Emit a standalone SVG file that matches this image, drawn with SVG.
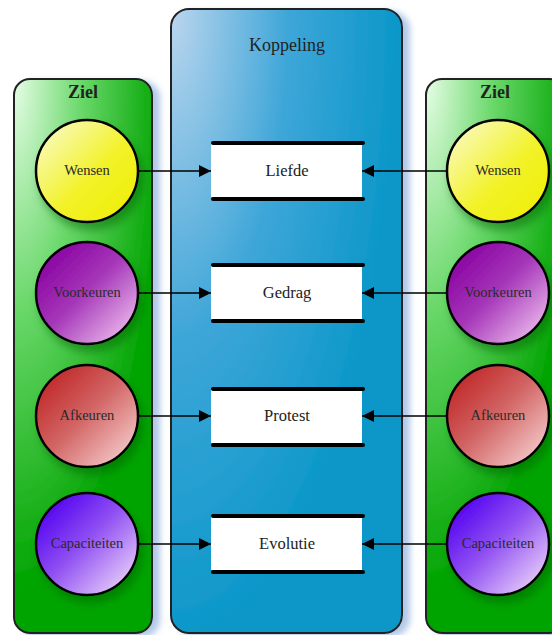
<svg xmlns="http://www.w3.org/2000/svg" width="552" height="635" viewBox="0 0 552 635">
<defs>
<radialGradient id="gL" gradientUnits="userSpaceOnUse" cx="14" cy="79" r="150" gradientTransform="translate(14,79) scale(1,3.4) translate(-14,-79)">
<stop offset="0" stop-color="#e6fde6"/><stop offset="0.45" stop-color="#6ad86a"/><stop offset="1" stop-color="#00a400"/>
</radialGradient>
<radialGradient id="gR" gradientUnits="userSpaceOnUse" cx="426" cy="79" r="150" gradientTransform="translate(426,79) scale(1,3.4) translate(-426,-79)">
<stop offset="0" stop-color="#e6fde6"/><stop offset="0.45" stop-color="#6ad86a"/><stop offset="1" stop-color="#00a400"/>
</radialGradient>
<radialGradient id="gK" gradientUnits="userSpaceOnUse" cx="171" cy="9" r="235" gradientTransform="translate(171,9) scale(1,2.8) translate(-171,-9)">
<stop offset="0" stop-color="#bcd6ee"/><stop offset="0.5" stop-color="#3ea6d8"/><stop offset="1" stop-color="#0896c8"/>
</radialGradient>
<linearGradient id="cY" x1="0" y1="0" x2="1" y2="1">
<stop offset="0" stop-color="#fbfbd8"/><stop offset="0.55" stop-color="#f2f22a"/><stop offset="1" stop-color="#eeee00"/>
</linearGradient>
<linearGradient id="cP" x1="0.1" y1="0.1" x2="0.95" y2="0.95">
<stop offset="0" stop-color="#8800a0"/><stop offset="0.45" stop-color="#a536b8"/><stop offset="1" stop-color="#f2c6f2"/>
</linearGradient>
<linearGradient id="cA" x1="0.1" y1="0.1" x2="0.95" y2="0.95">
<stop offset="0" stop-color="#c02626"/><stop offset="0.45" stop-color="#d26464"/><stop offset="1" stop-color="#f8d4d4"/>
</linearGradient>
<linearGradient id="cC" x1="0.1" y1="0.1" x2="0.95" y2="0.95">
<stop offset="0" stop-color="#5000f0"/><stop offset="0.45" stop-color="#9050f2"/><stop offset="1" stop-color="#f2dcfa"/>
</linearGradient>
<filter id="pshadow" x="-10%" y="-5%" width="130%" height="115%">
<feDropShadow dx="7" dy="3" stdDeviation="3" flood-color="#9fbbe2" flood-opacity="0.8"/>
</filter>
<filter id="cshadow" x="-20%" y="-20%" width="150%" height="150%">
<feDropShadow dx="4" dy="7" stdDeviation="4" flood-color="#005a00" flood-opacity="0.45"/>
</filter>
<marker id="arr" viewBox="0 0 12 12" refX="12" refY="6" markerWidth="12" markerHeight="12" markerUnits="userSpaceOnUse" orient="auto">
<path d="M0,0 L12,6 L0,12 z" fill="#000"/>
</marker>
</defs>
<style>
.panel{stroke:#222;stroke-width:2}
.circ{stroke:#000;stroke-width:2.5}
.ctext{font-family:"Liberation Serif","DejaVu Serif",serif;font-size:14.5px;fill:#2a2a2a;text-anchor:middle}
.btext{font-family:"Liberation Serif","DejaVu Serif",serif;font-size:16.5px;fill:#222;text-anchor:middle}
.ptitle{font-family:"Liberation Serif","DejaVu Serif",serif;font-size:18px;font-weight:bold;fill:#222;text-anchor:middle}
.ktitle{font-family:"Liberation Serif","DejaVu Serif",serif;font-size:18px;fill:#222;text-anchor:middle}
.bar{stroke:#000;stroke-width:4;stroke-linecap:round}
.conn{stroke:#000;stroke-width:1.5;fill:none}
</style>
<rect width="552" height="635" fill="#fff"/>

<g id="ziel-left">
<rect class="panel" x="14" y="79" width="138" height="554" rx="16" fill="url(#gL)" filter="url(#pshadow)"/>
<text class="ptitle" x="83" y="98">Ziel</text>
</g>
<g id="koppeling">
<rect class="panel" x="171" y="9" width="231" height="624" rx="18" fill="url(#gK)" filter="url(#pshadow)"/>
<text class="ktitle" x="287" y="51">Koppeling</text>
</g>
<g id="ziel-right">
<rect class="panel" x="426" y="79" width="140" height="554" rx="16" fill="url(#gR)" filter="url(#pshadow)"/>
<text class="ptitle" x="495" y="98">Ziel</text>
</g>

<g id="l-wensen"><circle class="circ" cx="87" cy="171" r="51" fill="url(#cY)" filter="url(#cshadow)"/><text class="ctext" x="87" y="175">Wensen</text></g>
<g id="l-voorkeuren"><circle class="circ" cx="87" cy="293" r="51" fill="url(#cP)" filter="url(#cshadow)"/><text class="ctext" x="87" y="297">Voorkeuren</text></g>
<g id="l-afkeuren"><circle class="circ" cx="87" cy="416" r="51" fill="url(#cA)" filter="url(#cshadow)"/><text class="ctext" x="87" y="420">Afkeuren</text></g>
<g id="l-capaciteiten"><circle class="circ" cx="87" cy="544" r="51" fill="url(#cC)" filter="url(#cshadow)"/><text class="ctext" x="87" y="548">Capaciteiten</text></g>

<g id="r-wensen"><circle class="circ" cx="498" cy="171" r="51" fill="url(#cY)" filter="url(#cshadow)"/><text class="ctext" x="498" y="175">Wensen</text></g>
<g id="r-voorkeuren"><circle class="circ" cx="498" cy="293" r="51" fill="url(#cP)" filter="url(#cshadow)"/><text class="ctext" x="498" y="297">Voorkeuren</text></g>
<g id="r-afkeuren"><circle class="circ" cx="498" cy="416" r="51" fill="url(#cA)" filter="url(#cshadow)"/><text class="ctext" x="498" y="420">Afkeuren</text></g>
<g id="r-capaciteiten"><circle class="circ" cx="498" cy="544" r="51" fill="url(#cC)" filter="url(#cshadow)"/><text class="ctext" x="498" y="548">Capaciteiten</text></g>

<g id="b-liefde"><rect x="211" y="144" width="151" height="53" fill="#fff"/><line class="bar" x1="213" y1="143" x2="363" y2="143"/><line class="bar" x1="213" y1="199" x2="363" y2="199"/><text class="btext" x="287" y="176">Liefde</text></g>
<g id="b-gedrag"><rect x="211" y="266" width="151" height="53" fill="#fff"/><line class="bar" x1="213" y1="265" x2="363" y2="265"/><line class="bar" x1="213" y1="321" x2="363" y2="321"/><text class="btext" x="287" y="298">Gedrag</text></g>
<g id="b-protest"><rect x="211" y="390" width="151" height="53" fill="#fff"/><line class="bar" x1="213" y1="389" x2="363" y2="389"/><line class="bar" x1="213" y1="445" x2="363" y2="445"/><text class="btext" x="287" y="421">Protest</text></g>
<g id="b-evolutie"><rect x="211" y="517" width="151" height="53" fill="#fff"/><line class="bar" x1="213" y1="516" x2="363" y2="516"/><line class="bar" x1="213" y1="572" x2="363" y2="572"/><text class="btext" x="287" y="549">Evolutie</text></g>

<g id="connectors">
<line class="conn" x1="138" y1="171" x2="211" y2="171" marker-end="url(#arr)"/>
<line class="conn" x1="138" y1="293" x2="211" y2="293" marker-end="url(#arr)"/>
<line class="conn" x1="138" y1="416" x2="211" y2="416" marker-end="url(#arr)"/>
<line class="conn" x1="138" y1="544" x2="211" y2="544" marker-end="url(#arr)"/>
<line class="conn" x1="447" y1="171" x2="362" y2="171" marker-end="url(#arr)"/>
<line class="conn" x1="447" y1="293" x2="362" y2="293" marker-end="url(#arr)"/>
<line class="conn" x1="447" y1="416" x2="362" y2="416" marker-end="url(#arr)"/>
<line class="conn" x1="447" y1="544" x2="362" y2="544" marker-end="url(#arr)"/>
</g>
</svg>
